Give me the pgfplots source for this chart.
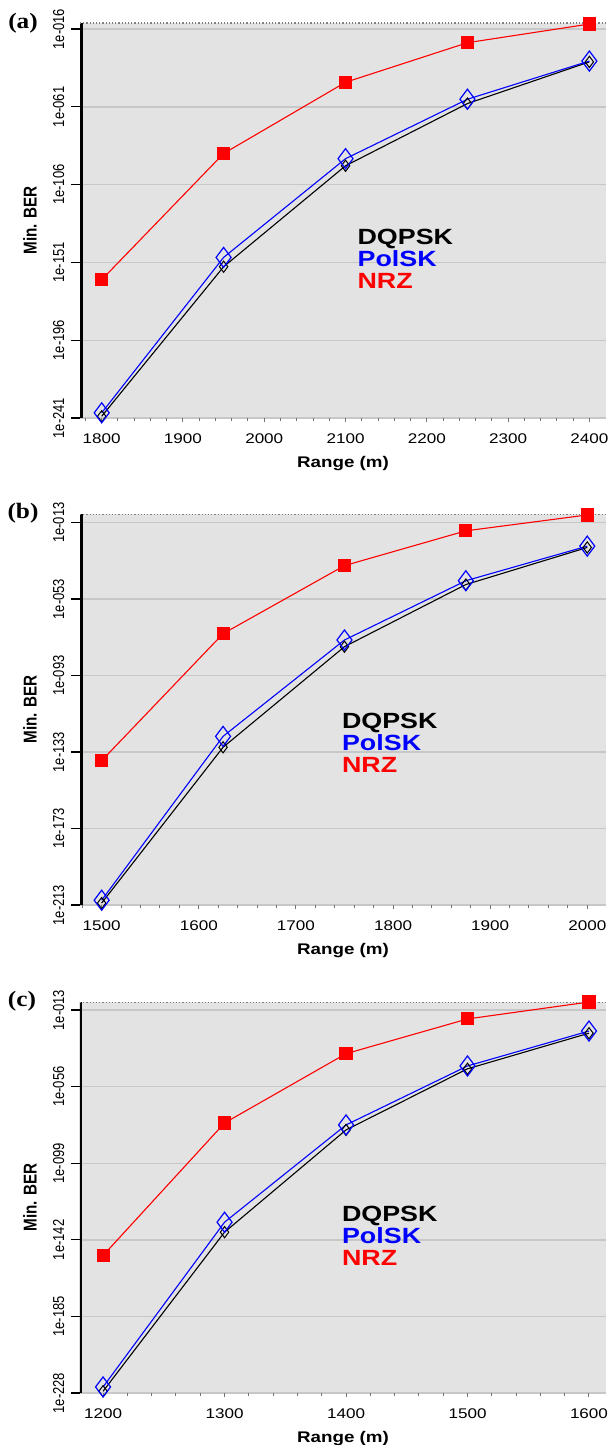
\documentclass[border=0pt]{standalone}
\usepackage{fontspec}
\setmainfont{Liberation Sans}
\newfontfamily\hsans[FakeStretch=1.22]{Liberation Sans}
\newfontfamily\hserif[FakeStretch=1.15]{Liberation Serif}
\usepackage{graphicx}
\usepackage{pgfplots}
\usepackage{pgfplotstable}
\pgfplotsset{compat=1.18}

% vertical text is thicker than it is long in the original
\newcommand\vlab[1]{\scalebox{1}[1.22]{#1}}

% y values are log10(BER)
\pgfplotstableread{
x     dqpsk   polsk   nrz
1800  -240    -238    -161
1950  -153.5  -148.1  -88
2100  -95.1   -91.0   -46.8
2250  -59.1   -56.6   -23.9
2400  -35     -34.5   -13.1
}\dataA
\pgfplotstableread{
x     dqpsk   polsk   nrz
1500  -212    -210.5  -137.5
1625  -130.5  -124.8  -71.1
1750  -77.9   -74.4   -35.5
1875  -45.4   -43.4   -17.3
2000  -26     -25.3   -9
}\dataB
\pgfplotstableread{
x     dqpsk   polsk   nrz
1200  -227    -224.6  -150.8
1300  -137.7  -132.1  -76.4
1400  -80.3   -77.5   -37.5
1500  -46     -44.4   -18
1600  -26     -24.8   -8.5
}\dataC

\pgfplotsset{
  berpanel/.style={
    scale only axis, width=263pt, height=195.5pt, anchor=north west,
    axis background/.style={fill=black!11},
    axis line style={draw=none},
    ymajorgrids, grid style={black!22, line width=0.7pt},
    tick align=outside,
    ytick pos=left, xtick pos=bottom,
    xtick distance=100,
    minor x tick num=4,
    ytick style={black, line width=0.6pt, /pgfplots/major tick length=4.5pt},
    xtick style={black!55, line width=0.5pt, /pgfplots/major tick length=2pt, /pgfplots/minor tick length=1.5pt},
    yticklabel style={rotate=90, anchor=south, font=\fontsize{6.5}{7}\selectfont},
    xticklabel style={font=\hsans\fontsize{7}{8}\selectfont},
    /pgf/number format/assume math mode=true,
    /pgf/number format/1000 sep={},
    scaled x ticks=false,
    xlabel={Range (m)},
    xlabel style={font=\hsans\bfseries\fontsize{7.7}{9}\selectfont, at={(axis description cs:0.5,0)}, anchor=center, yshift=-23pt},
    ylabel={\vlab{Min. BER}},
    ylabel style={font=\bfseries\fontsize{7.6}{9}\selectfont, at={(axis description cs:-0.095,0.5)}, anchor=center},
    legend image code/.code={},
    legend cell align=left,
    legend style={draw=none, fill=none, inner sep=0pt, anchor=north west,
      font=\hsans\bfseries\fontsize{11}{12}\selectfont, row sep=3.1pt,
      nodes={inner sep=0pt, text height=7.9pt, text depth=0pt}},
  },
  dq/.style={black, line width=0.55pt, mark=diamond, mark size=2.8pt, mark options={solid, line width=0.5pt}},
  ps/.style={blue, line width=0.55pt, mark=diamond, mark size=5pt, mark options={solid, line width=0.6pt}},
  nz/.style={red, line width=0.55pt, mark=square*, mark size=3pt},
}

\begin{document}
\begin{tikzpicture}
\useasboundingbox (0,0) rectangle (304pt,-722.5pt);

% ---- (a)
\begin{axis}[berpanel, at={(40pt,-11.5pt)}, height=197.5pt,
    xmin=1773.3, xmax=2420.5, ymin=-241, ymax=-12.5,
    ytick={-241,-196,-151,-106,-61,-16},
    yticklabels={\vlab{1e-241},\vlab{1e-196},\vlab{1e-151},\vlab{1e-106},\vlab{1e-061},\vlab{1e-016}},
    legend style={at={(0.527,0.481)}}]
\addplot[dq] table[x=x, y=dqpsk] {\dataA};
\addplot[ps] table[x=x, y=polsk] {\dataA};
\addplot[nz] table[x=x, y=nrz] {\dataA};
\legend{\textcolor{black}{DQPSK},\textcolor{blue}{PolSK},\textcolor{red}{NRZ}}
\draw[line width=2.5pt] (rel axis cs:0,0) -- (rel axis cs:0,1);
\draw[black!50, densely dotted, line width=0.6pt] (rel axis cs:0,1) -- (rel axis cs:1,1);
\end{axis}

% ---- (b)
\begin{axis}[berpanel, at={(40pt,-257pt)},
    xmin=1477.7, xmax=2019.3, ymin=-213, ymax=-8.5,
    ytick={-213,-173,-133,-93,-53,-13},
    yticklabels={\vlab{1e-213},\vlab{1e-173},\vlab{1e-133},\vlab{1e-093},\vlab{1e-053},\vlab{1e-013}},
    legend style={at={(0.4975,0.494)}}]
\addplot[dq] table[x=x, y=dqpsk] {\dataB};
\addplot[ps] table[x=x, y=polsk] {\dataB};
\addplot[nz] table[x=x, y=nrz] {\dataB};
\legend{\textcolor{black}{DQPSK},\textcolor{blue}{PolSK},\textcolor{red}{NRZ}}
\draw[line width=2.5pt] (rel axis cs:0,0) -- (rel axis cs:0,1);
\draw[black!50, densely dotted, line width=0.6pt] (rel axis cs:0,1) -- (rel axis cs:1,1);
\end{axis}

% ---- (c)
\begin{axis}[berpanel, at={(40pt,-501pt)},
    xmin=1181, xmax=1614, ymin=-228, ymax=-8.5,
    ytick={-228,-185,-142,-99,-56,-13},
    yticklabels={\vlab{1e-228},\vlab{1e-185},\vlab{1e-142},\vlab{1e-099},\vlab{1e-056},\vlab{1e-013}},
    legend style={at={(0.4975,0.481)}}]
\addplot[dq] table[x=x, y=dqpsk] {\dataC};
\addplot[ps] table[x=x, y=polsk] {\dataC};
\addplot[nz] table[x=x, y=nrz] {\dataC};
\legend{\textcolor{black}{DQPSK},\textcolor{blue}{PolSK},\textcolor{red}{NRZ}}
\draw[line width=2.5pt] (rel axis cs:0,0) -- (rel axis cs:0,1);
\draw[black!50, densely dotted, line width=0.6pt] (rel axis cs:0,1) -- (rel axis cs:1,1);
\end{axis}

\node[font=\hserif\bfseries\fontsize{11}{12}\selectfont] at (11.5pt,-11.6pt) {(a)};
\node[font=\hserif\bfseries\fontsize{11}{12}\selectfont] at (11.5pt,-256.5pt) {(b)};
\node[font=\hserif\bfseries\fontsize{11}{12}\selectfont] at (11pt,-500.8pt) {(c)};
\end{tikzpicture}
\end{document}
